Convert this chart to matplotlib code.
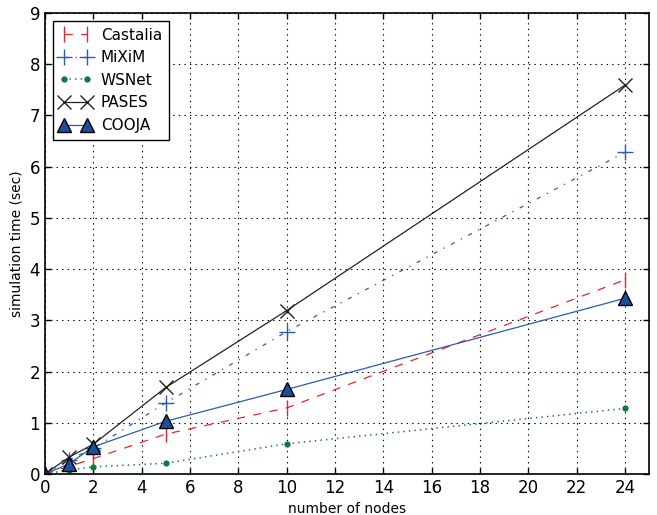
import matplotlib
matplotlib.use('Agg')
import matplotlib.pyplot as plt

# number of nodes simulated
nodes = [0, 1, 2, 5, 10, 24]

# simulation time (sec) per simulator
castalia = [0, 0.15, 0.3, 0.78, 1.29, 3.79]
mixim = [0, 0.28, 0.5, 1.39, 2.78, 6.28]
wsnet = [0, 0.08, 0.14, 0.21, 0.59, 1.28]
pases = [0, 0.33, 0.58, 1.69, 3.19, 7.59]
cooja = [0, 0.2, 0.53, 1.03, 1.65, 3.43]

x_ticks = list(range(0, 25, 2))
y_ticks = list(range(0, 10))

plt.rcParams['font.family'] = 'DejaVu Sans'
plt.rcParams['xtick.direction'] = 'in'
plt.rcParams['ytick.direction'] = 'in'
# old-style dash patterns
plt.rcParams['lines.scale_dashes'] = False
plt.rcParams['lines.dashed_pattern'] = [6, 6]
plt.rcParams['lines.dashdot_pattern'] = [3, 5, 1, 5]
plt.rcParams['lines.dotted_pattern'] = [1, 3]

fig = plt.figure(figsize=(6.57, 5.15), dpi=100)
ax = fig.add_axes([45 / 657, 1 - 474 / 515, 604 / 657, 461 / 515])

ax.plot(nodes, castalia, color='#e8262b', linestyle='--', linewidth=0.9,
        marker='|', markersize=12, markeredgewidth=1.0, label='Castalia')
ax.plot(nodes, mixim, color='#2a5db0', linestyle='-.', linewidth=0.9,
        marker='+', markersize=12, markeredgewidth=1.0, label='MiXiM')
ax.plot(nodes, wsnet, color='#0a7a3a', linestyle=':', linewidth=1.1,
        marker='o', markersize=4.5, markeredgewidth=0, label='WSNet')
ax.plot(nodes, pases, color='#222222', linestyle='-', linewidth=0.9,
        marker='x', markersize=10, markeredgewidth=1.0, label='PASES')
ax.plot(nodes, cooja, color='#2a5db0', linestyle='-', linewidth=0.9,
        marker='^', markersize=10, markerfacecolor='#1f4e9a',
        markeredgecolor='black', markeredgewidth=1.0, label='COOJA')

ax.set_xlim(0, 25)
ax.set_ylim(0, 9)
ax.set_xticks(x_ticks)
ax.set_yticks(y_ticks)
ax.tick_params(axis='both', labelsize=12, top=True, right=True, length=4, width=1)
ax.grid(True, color='black', linestyle=':', linewidth=0.8)
for s in ax.spines.values():
    s.set_linewidth(1.2)

ax.set_xlabel('number of nodes', fontsize=10)
ax.set_ylabel('simulation time (sec)', fontsize=10)

leg = ax.legend(loc='upper left', numpoints=2, fontsize=11, fancybox=False,
                framealpha=1, edgecolor='black', borderpad=0.45,
                handlelength=2.1, handletextpad=0.6, labelspacing=0.5)
leg.get_frame().set_linewidth(1.0)

fig.savefig('out.png', dpi=100, facecolor='white')
